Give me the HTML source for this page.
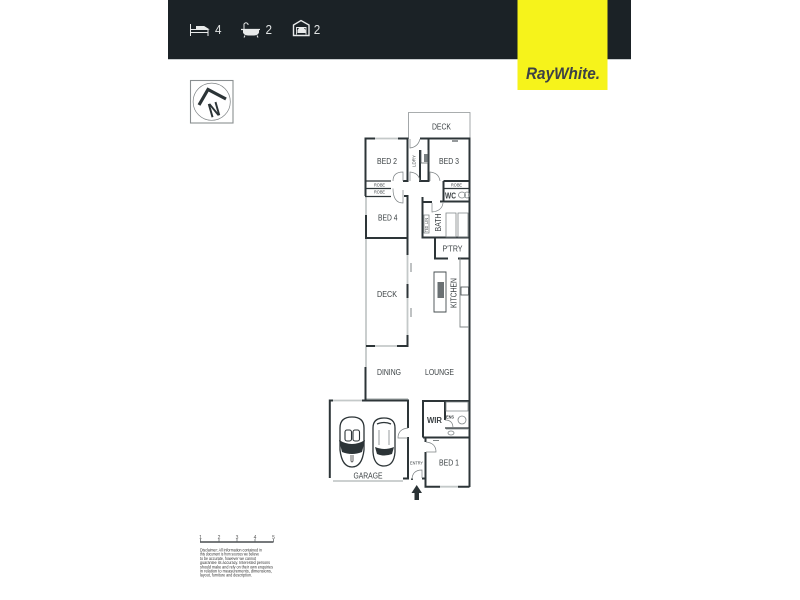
<!DOCTYPE html>
<html><head><meta charset="utf-8"><style>
html,body{margin:0;padding:0;background:#fff;width:800px;height:600px;overflow:hidden}
svg{display:block}
text{font-family:"Liberation Sans",sans-serif;fill:#3a4043}
</style></head><body>
<svg width="800" height="600" viewBox="0 0 800 600" xmlns="http://www.w3.org/2000/svg">
<rect x="168" y="0" width="463" height="59" fill="#1b2226"/>
<rect x="168" y="59" width="463" height="1" fill="#c9cdce"/>
<rect x="517.500" y="0" width="90" height="90" fill="#f6f31b"/>
<text x="526" y="79" font-size="16.500" font-weight="700" font-style="italic" style="fill:#3c4146" textLength="74" lengthAdjust="spacingAndGlyphs">RayWhite.</text>
<!-- header icons -->
<g stroke="#e8eaea" fill="none" stroke-width="1">
<path d="M190.500 24V36M190.500 32.500H208M208 29V36M191 29.500H208"/>
<path d="M196.500 29V26.500H204L208 29Z" fill="#e8eaea"/>
<path d="M241 29.500H260" stroke-width="1.300"/>
<path d="M243.500 30V32.500Q244.500 35 248 35H254Q257.500 35 258.500 32.500V30" fill="#e8eaea"/>
<path d="M244 29V24Q246 21.500 248 24V25"/><path d="M245 35.500L244 37.500M257 35.500L258 37.500"/>
<path d="M293.500 35.500V25L301 20.500L309 25V35.500Z" stroke-width="1.400"/>
<path d="M296.500 34.500V27.500H306V34.500" stroke-width="0.900"/>
</g>
<path d="M297.500 33V30L299 28H304L305.500 30V33Z" fill="#e8eaea"/>
<g font-size="13">
<text x="215" y="34" textLength="6.500" lengthAdjust="spacingAndGlyphs" style="fill:#dfe2e2">4</text>
<text x="265.500" y="34" textLength="6.500" lengthAdjust="spacingAndGlyphs" style="fill:#dfe2e2">2</text>
<text x="313.800" y="34" textLength="6.500" lengthAdjust="spacingAndGlyphs" style="fill:#dfe2e2">2</text>
</g>
<!-- north -->
<rect x="190.500" y="80.500" width="42.500" height="42.500" fill="#fff" stroke="#8a8f91" stroke-width="1.100"/>
<circle cx="211.700" cy="101.700" r="18.600" fill="none" stroke="#7d8284" stroke-width="0.700"/>
<path d="M199 105L208 89.500L226 99" fill="none" stroke="#2c3437" stroke-width="3.200"/>
<text transform="translate(210.600 117.700) rotate(-16)" font-size="20" font-weight="700" textLength="11" lengthAdjust="spacingAndGlyphs" style="fill:#2c3437">N</text>
<!-- light walls / glazing -->
<g fill="none" stroke="#c4c9c9" stroke-width="1.800">
<path d="M375 138.500H398"/>
<path d="M366 196V215"/>
<path d="M366 238V346V367"/>
<path d="M407.500 255V284M407.500 298V335"/>
<path d="M375 346H397"/>
<path d="M366 399H408"/>
<path d="M333 400.500H362"/>
<path d="M333 481H403"/>
<path d="M440 486.700H458"/>
</g>
<path d="M408.500 139V112.500H470V139" fill="none" stroke="#8d9294" stroke-width="0.800"/>
<!-- dark walls -->
<g fill="none" stroke="#2d3538" stroke-width="2">
<path d="M375 138.500H365.500V196"/>
<path d="M398 138.500H407.500V181H403"/>
<path d="M420 138.500H469.500V487"/>
<path d="M420 150V181H428.500V138.500"/>
<path d="M443.500 181H469M443.500 181V201.500M440 201.500H469" />
<path d="M443.500 188.500H469" stroke-width="1.300"/>
<path d="M365 196.500H391M365 181H391" stroke-width="1.300"/>
<path d="M365 188.500H391" stroke-width="1.300"/>
<path d="M404 196H407.500V238"/>
<path d="M366 215V238H407.500"/>
<path d="M422.500 197V237.500H469M422 202H432"/>
<path d="M435 238V258.500H448M458 258.500H469"/>
<path d="M407.500 238V255M407.500 284V298M407.500 335V346H397"/>
<path d="M375 346H366"/>
<path d="M365.500 367V400"/>
<path d="M362 400.500H408V428M408 437V478.500H403"/>
<path d="M333 400.500H329.800V478"/>
<path d="M423 437.500V401H469M423 437.500H469"/>
<path d="M445 401V420"/>
<path d="M445 428H469" stroke-width="1.200"/>
<path d="M425.500 438V442M425.500 452V486.700H440M458 486.700H469.500"/>
<path d="M412 478.500V480M425 478.500H422"/>
</g>
<path d="M452 141H458" stroke="#2d3538" stroke-width="1"/>
<path d="M433 440.500H439" stroke="#7c8284" stroke-width="1"/>
<!-- doors -->
<g fill="none" stroke="#7c8284" stroke-width="0.700">
<path d="M410 139V148Q418 147 420 139"/>
<path d="M393 181Q393 172 403 172V181"/>
<path d="M410 181V172Q419 173 420 181"/>
<path d="M430 181V172Q439 173 440 181"/>
<path d="M393 188.500Q393 203 403 203V190"/>
<path d="M432 203V212Q442 211 443 203"/>
<path d="M408 428Q398 429 398 438H408"/>
<path d="M445 420Q453 420 453 428"/>
<path d="M426 442Q436 443 436 452H426"/>
<path d="M412 480Q412 470 422 470V478"/>
</g>
<!-- fittings -->
<g fill="none" stroke="#7f8587" stroke-width="0.800">
<path d="M421 150V163H428V150" stroke="#555c5f"/>
<path d="M424 215H429V233H424Z"/>
<path d="M446 213H456V237H446ZM458 213H468V237H458Z"/>
<path d="M434 272V312H446V272Z" stroke="#454c4f" stroke-width="0.900"/>
<path d="M460 258V327H469" stroke-width="0.900"/>
<rect x="461" y="287" width="7.500" height="8" stroke="#454c4f"/>
<path d="M411 263V272M411 308V317" stroke-width="1"/>
<path d="M446 402H468V411H446ZM446 429H468"/>
<ellipse cx="462" cy="195" rx="3.500" ry="3"/>
<ellipse cx="467" cy="195" rx="2.500" ry="3"/>
<ellipse cx="462" cy="420" rx="4" ry="4"/>
<ellipse cx="451" cy="433" rx="3" ry="2"/>
</g>
<rect x="437.500" y="282" width="6.500" height="16" fill="#6a7073"/>
<rect x="424" y="154" width="3.500" height="8" fill="#7a8082"/>
<!-- cars -->
<g stroke="#2c3437" fill="#fff" stroke-width="1.300">
<path d="M340 428Q340 417 352 417Q364 417 364 428V450Q362 467 352 467Q342 467 340 450Z"/>
<path d="M373 428Q373 418 384 418Q395 418 395 428V452Q394 466 384 466Q374 466 373 452Z"/>
</g>
<path d="M339 440Q352 448 365 440L362 452Q352 456 342 452Z" fill="#2c3437"/>
<path d="M375 447Q384 451 394 447L392 454Q384 457 377 454Z" fill="#2c3437"/>
<g fill="#fff" stroke="#2c3437" stroke-width="1.100">
<rect x="345" y="430" width="6.500" height="11" rx="2"/>
<rect x="353" y="430" width="6.500" height="11" rx="2"/>
</g>
<path d="M377 424Q384 421 391 424" fill="none" stroke="#2c3437" stroke-width="1.300"/>
<path d="M379 430V445M389 430V445" fill="none" stroke="#7d8385" stroke-width="0.800"/>
<path d="M351 455V461Q352 463 353 461V455" fill="none" stroke="#555" stroke-width="0.900"/>
<!-- arrow -->
<path d="M416.700 485L422 493H419V500H414.500V493H411.500Z" fill="#2b3336"/>
<!-- labels -->
<g font-size="8.600">
<text x="377" y="164" textLength="20" lengthAdjust="spacingAndGlyphs">BED 2</text>
<text x="439" y="164" textLength="20" lengthAdjust="spacingAndGlyphs">BED 3</text>
<text x="432" y="129.500" textLength="19" lengthAdjust="spacingAndGlyphs">DECK</text>
<text x="378" y="220.500" textLength="19.500" lengthAdjust="spacingAndGlyphs">BED 4</text>
<text x="377" y="297" textLength="20" lengthAdjust="spacingAndGlyphs">DECK</text>
<text x="377" y="375" textLength="24" lengthAdjust="spacingAndGlyphs">DINING</text>
<text x="425" y="375" textLength="29" lengthAdjust="spacingAndGlyphs">LOUNGE</text>
<text x="442.500" y="251.500" textLength="20" lengthAdjust="spacingAndGlyphs">P'TRY</text>
<text x="439" y="465.500" textLength="20" lengthAdjust="spacingAndGlyphs">BED 1</text>
<text x="353.500" y="478.500" textLength="29" lengthAdjust="spacingAndGlyphs">GARAGE</text>
<text x="427" y="423" textLength="15" lengthAdjust="spacingAndGlyphs" font-weight="700">WIR</text>
<text x="445" y="198.500" textLength="11" lengthAdjust="spacingAndGlyphs" font-weight="700">WC</text>
<text transform="translate(441 231.500) rotate(-90)" textLength="18" lengthAdjust="spacingAndGlyphs">BATH</text>
<text transform="translate(456.500 308) rotate(-90)" textLength="30" lengthAdjust="spacingAndGlyphs">KITCHEN</text>
</g>
<g font-size="4.600">
<text x="374" y="186.700" textLength="11" lengthAdjust="spacingAndGlyphs">ROBE</text>
<text x="374" y="193.700" textLength="11" lengthAdjust="spacingAndGlyphs">ROBE</text>
<text x="451" y="186.700" textLength="11" lengthAdjust="spacingAndGlyphs">ROBE</text>
<text transform="translate(415.500 167) rotate(-90)" textLength="12" lengthAdjust="spacingAndGlyphs">LDRY</text>
<text x="446" y="418.500" textLength="8" lengthAdjust="spacingAndGlyphs" font-weight="700">ENS</text>
<text x="410" y="464.500" textLength="13" lengthAdjust="spacingAndGlyphs">ENTRY</text>
<text transform="translate(428 232) rotate(-90)" textLength="6" lengthAdjust="spacingAndGlyphs">TED</text>
<text transform="translate(428 224) rotate(-90)" textLength="6" lengthAdjust="spacingAndGlyphs">LIN</text>
</g>
<!-- scale -->
<path d="M200 542H273.500" stroke="#24292c" stroke-width="1.300"/>
<path d="M200.500 539V542M219 539V542M237 539V542M255 539V542M273.500 539V542" stroke="#555b5e" stroke-width="0.700"/>
<g font-size="5">
<text x="200.500" y="539" text-anchor="middle" style="fill:#555">1</text><text x="219" y="539" text-anchor="middle" style="fill:#555">2</text><text x="237" y="539" text-anchor="middle" style="fill:#555">3</text><text x="255" y="539" text-anchor="middle" style="fill:#555">4</text><text x="273.500" y="539" text-anchor="middle" style="fill:#555">5</text>
</g>
<g font-size="4.700">
<text x="200" y="551.500" textLength="62" lengthAdjust="spacingAndGlyphs" style="fill:#333">Disclaimer: All information contained in</text>
<text x="200" y="555.700" textLength="59" lengthAdjust="spacingAndGlyphs" style="fill:#333">this document is from sources we believe</text>
<text x="200" y="559.900" textLength="56" lengthAdjust="spacingAndGlyphs" style="fill:#333">to be accurate, however we cannot</text>
<text x="200" y="564.100" textLength="70" lengthAdjust="spacingAndGlyphs" style="fill:#333">guarantee its accuracy. Interested persons</text>
<text x="200" y="568.300" textLength="73" lengthAdjust="spacingAndGlyphs" style="fill:#333">should make and rely on their own enquiries</text>
<text x="200" y="572.500" textLength="72" lengthAdjust="spacingAndGlyphs" style="fill:#333">in relation to measurements, dimensions,</text>
<text x="200" y="576.700" textLength="52" lengthAdjust="spacingAndGlyphs" style="fill:#333">layout, furniture and description.</text>
</g>
</svg>
</body></html>
